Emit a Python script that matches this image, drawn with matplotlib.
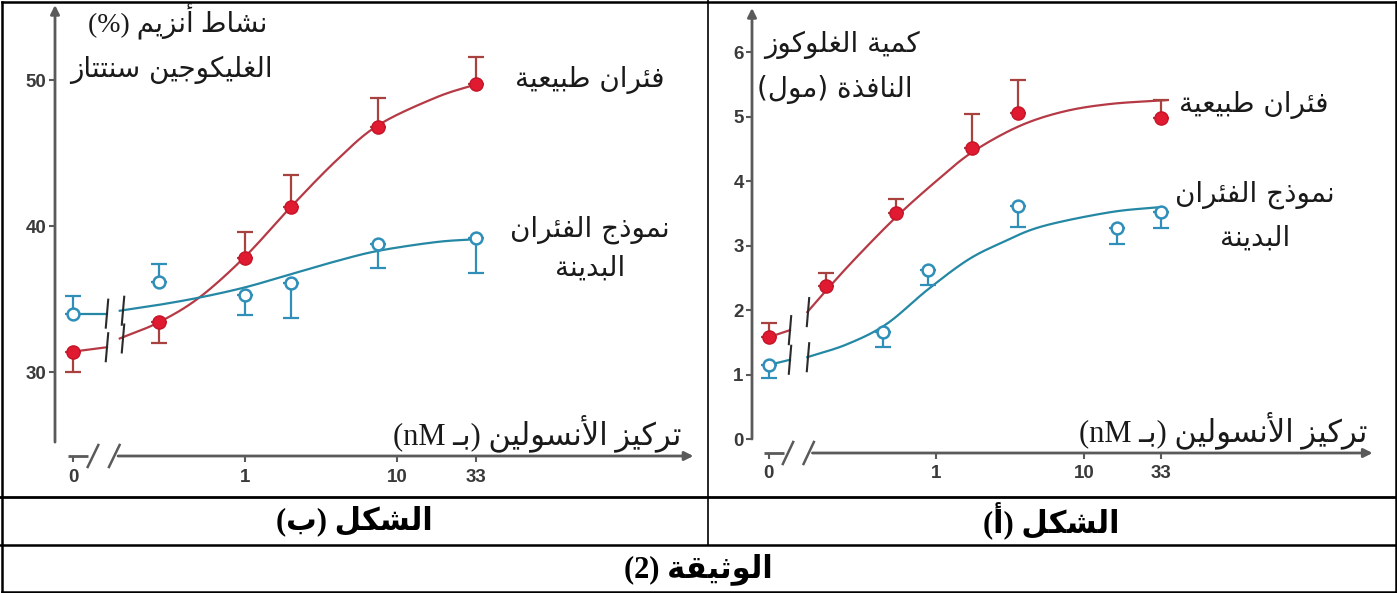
import re
import numpy as np
import matplotlib
matplotlib.use('Agg')
import matplotlib.pyplot as plt
from matplotlib.lines import Line2D

# ---------- الشكل (ب): نشاط أنزيم الغليكوجين سنتتاز (%) ----------
b_red_dose = [0, 0.27, 1, 2, 7.5, 33]
b_red = [31.4, 33.4, 37.8, 41.3, 46.8, 49.7]
b_red_err = [-1.4, -1.4, 1.8, 2.2, 2.0, 1.9]          # sign = side of the bar
b_blue_dose = [0, 0.27, 1, 2, 7.5, 33]
b_blue = [34.0, 36.2, 35.3, 36.1, 38.8, 39.2]
b_blue_err = [1.2, 1.2, -1.4, -2.4, -1.7, -2.4]

b_curve_dose = [0.15, 0.27, 0.5, 1, 2, 4, 7.5, 18, 33]
b_red_curve = [32.3, 33.4, 35.1, 37.9, 41.3, 44.5, 46.9, 48.8, 49.7]
b_blue_curve = [34.2, 34.6, 35.1, 35.8, 36.7, 37.6, 38.3, 38.9, 39.1]
b_red_stub = 31.7
b_blue_stub = 34.0
b_yticks = [30, 40, 50]

# ---------- الشكل (أ): كمية الغلوكوز النافذة (مول) ----------
a_red_dose = [0, 0.18, 0.54, 1.75, 3.6, 33]
a_red = [1.58, 2.38, 3.51, 4.52, 5.06, 4.98]
a_red_err = [0.22, 0.2, 0.21, 0.53, 0.51, 0.28]
a_blue_dose = [0, 0.44, 0.88, 3.6, 16.7, 33]
a_blue = [1.15, 1.66, 2.62, 3.62, 3.27, 3.52]
a_blue_err = [-0.2, -0.23, -0.23, -0.33, -0.25, -0.25]

a_red_curve_dose = [0.135, 0.18, 0.29, 0.54, 1, 1.75, 3.6, 7.2, 15, 36]
a_red_curve = [1.97, 2.30, 2.82, 3.45, 4.0, 4.45, 4.85, 5.08, 5.2, 5.26]
a_blue_curve_dose = [0.135, 0.25, 0.46, 0.88, 1.64, 2.8, 5.2, 15, 33]
a_blue_curve = [1.27, 1.47, 1.78, 2.32, 2.78, 3.05, 3.30, 3.52, 3.60]
a_red_stub = 1.69
a_blue_stub = 1.23
a_yticks = [0, 1, 2, 3, 4, 5, 6]

x_ticks = [0, 1, 10, 33]
x_ticklabels = ['0', '1', '10', '33']

RED_LINE = '#b53a45'
RED_MARK = '#e01a30'
RED_ERR = '#a8423e'
BLUE_LINE = '#2488a4'
BLUE_MARK = '#2f8fb8'
AX_C = '#5a5a5a'
ZERO_POS = -1.13

W, H = 1397, 593


def fx(px):
    return px / W


def fy(py):
    return 1 - py / H


# ---------- arabic shaping (contextual forms + visual order) ----------
DUAL = {'ئ': 0xFE89, 'ب': 0xFE8F, 'ت': 0xFE95, 'ث': 0xFE99, 'ج': 0xFE9D,
        'ح': 0xFEA1, 'خ': 0xFEA5, 'س': 0xFEB1, 'ش': 0xFEB5, 'ص': 0xFEB9,
        'ض': 0xFEBD, 'ط': 0xFEC1, 'ظ': 0xFEC5, 'ع': 0xFEC9, 'غ': 0xFECD,
        'ف': 0xFED1, 'ق': 0xFED5, 'ك': 0xFED9, 'ل': 0xFEDD, 'م': 0xFEE1,
        'ن': 0xFEE5, 'ه': 0xFEE9, 'ي': 0xFEF1}
RIGHT = {'آ': 0xFE81, 'أ': 0xFE83, 'ؤ': 0xFE85, 'إ': 0xFE87, 'ا': 0xFE8D,
         'ة': 0xFE93, 'د': 0xFEA9, 'ذ': 0xFEAB, 'ر': 0xFEAD, 'ز': 0xFEAF,
         'و': 0xFEED, 'ى': 0xFEEF}
LAM_ALEF = {'آ': 0xFEF5, 'أ': 0xFEF7, 'إ': 0xFEF9, 'ا': 0xFEFB}
TATWEEL = 'ـ'


def shape(s):
    out = []
    i = 0
    n = len(s)
    while i < n:
        c = s[i]
        prev = s[i - 1] if i > 0 else ''
        nxt = s[i + 1] if i + 1 < n else ''
        con_prev = prev in DUAL or prev == TATWEEL
        if c == 'ل' and nxt in LAM_ALEF:
            out.append(chr(LAM_ALEF[nxt] + (1 if con_prev else 0)))
            i += 2
            continue
        if c in DUAL:
            con_next = nxt in DUAL or nxt in RIGHT or nxt == TATWEEL
            if con_prev and con_next:
                off = 3
            elif con_prev:
                off = 1
            elif con_next:
                off = 2
            else:
                off = 0
            out.append(chr(DUAL[c] + off))
        elif c in RIGHT:
            out.append(chr(RIGHT[c] + (1 if con_prev else 0)))
        else:
            out.append(c)
        i += 1
    return ''.join(out)


def ar(s):
    tokens = re.findall(r'[A-Za-z0-9]+|.', shape(s))
    mirror = {'(': ')', ')': '('}
    return ''.join(mirror.get(t, t) for t in reversed(tokens))


def pos(doses):
    d = np.asarray(doses, float)
    return np.where(d > 0, np.log10(np.where(d > 0, d, 1)), ZERO_POS)


def smooth(xs, ys, n=16):
    # catmull-rom through the traced curve points
    p = np.column_stack([xs, ys])
    p = np.vstack([2 * p[0] - p[1], p, 2 * p[-1] - p[-2]])
    t = np.linspace(0, 1, n, endpoint=False)[:, None]
    segs = []
    for i in range(1, len(p) - 2):
        p0, p1, p2, p3 = p[i - 1], p[i], p[i + 1], p[i + 2]
        seg = 0.5 * (2 * p1 + (-p0 + p2) * t + (2 * p0 - 5 * p1 + 4 * p2 - p3) * t ** 2
                     + (-p0 + 3 * p1 - 3 * p2 + p3) * t ** 3)
        segs.append(seg)
    segs.append(p[-2][None, :])
    out = np.vstack(segs)
    return out[:, 0], out[:, 1]


def draw_panel(ax, xlim, ylim, ppu, ybottom, yticks, series, brk):
    ax.set_xlim(xlim)
    ax.set_ylim(ylim)
    for s in ax.spines.values():
        s.set_visible(False)
    ax.patch.set_alpha(0)

    ax.set_xticks(pos(x_ticks))
    ax.set_xticklabels(x_ticklabels)
    ax.set_yticks(yticks)
    ax.tick_params(direction='out', length=4, width=1.5, color=AX_C,
                   labelsize=13.5, labelcolor='#3a3a3a')
    ax.tick_params(axis='x', pad=5)
    ax.tick_params(axis='y', pad=2)
    for lbl in ax.get_xticklabels() + ax.get_yticklabels():
        lbl.set_fontfamily('Liberation Sans')
        lbl.set_fontweight('bold')

    # y axis with arrow
    ax.annotate('', xy=(xlim[0], ylim[1]), xytext=(xlim[0], ybottom),
                arrowprops=dict(arrowstyle='-|>', color=AX_C, lw=2, shrinkA=0, shrinkB=0,
                                mutation_scale=13), annotation_clip=False)
    # x axis, broken near zero
    yb = ylim[0]
    ax.plot([-1.165, -1.03], [yb, yb], color=AX_C, lw=2, clip_on=False,
            solid_capstyle='butt')
    ax.annotate('', xy=(2.95, yb), xytext=(-0.835, yb),
                arrowprops=dict(arrowstyle='-|>', color=AX_C, lw=2, shrinkA=0, shrinkB=0,
                                mutation_scale=13), annotation_clip=False)
    h = 11 / ppu
    for sx in (-1.0, -0.86):
        ax.plot([sx - 0.035, sx + 0.035], [yb - h, yb + h], color=AX_C, lw=1.8,
                clip_on=False)

    bh = 14 / ppu
    for dose, vals, err, cdose, cvals, stub, line_c, filled in series:
        xs = pos(dose)
        ax.plot([xs[0], brk[0]], [vals[0], stub], color=line_c, lw=1.6, zorder=2)
        cx, cy = smooth(pos(cdose), cvals)
        ax.plot(cx, cy, color=line_c, lw=1.6, zorder=2)
        for bx, yc in ((brk[0], stub), (brk[1], cvals[0])):
            ax.plot([bx - 0.008, bx + 0.008], [yc - bh, yc + bh], color='#2a2a2a',
                    lw=1.5, zorder=3)
        e = np.asarray(err)
        lo = np.where(e < 0, -e, 0)
        hi = np.where(e > 0, e, 0)
        if filled:
            ax.errorbar(xs, vals, yerr=[lo, hi], fmt='none', ecolor=RED_ERR,
                        elinewidth=1.6, capsize=6, capthick=1.6, zorder=3)
            ax.plot(xs, vals, 'o', ms=9.5, mfc=RED_MARK, mec='#c41428', mew=1,
                    zorder=5)
        else:
            ax.errorbar(xs, vals, yerr=[lo, hi], fmt='none', ecolor=BLUE_MARK,
                        elinewidth=1.6, capsize=6, capthick=1.6, zorder=3)
            ax.plot(xs, vals, 'o', ms=8.5, mfc='white', mec=BLUE_MARK, mew=1.8,
                    zorder=5)


plt.rcParams['font.family'] = ['DejaVu Sans']
fig = plt.figure(figsize=(W / 100, H / 100), dpi=100)

# left panel (ب): 1 nM at 245 px, 152 px per decade, 14.6 px per %
axb = fig.add_axes([fx(55), fy(456), (700 - 55) / W, (456 - 5) / H])
draw_panel(axb, ((55 - 245) / 152, (700 - 245) / 152), (24.25, 55.14), 14.6, 25.2,
           b_yticks,
           [(b_red_dose, b_red, b_red_err, b_curve_dose, b_red_curve, b_red_stub,
             RED_LINE, True),
            (b_blue_dose, b_blue, b_blue_err, b_curve_dose, b_blue_curve, b_blue_stub,
             BLUE_LINE, False)],
           ((107 - 245) / 152, (123 - 245) / 152))

# right panel (أ): 1 nM at 936 px, 148 px per decade, 64.4 px per mol
axa = fig.add_axes([fx(752), fy(453), (1390 - 752) / W, (453 - 8) / H])
draw_panel(axa, ((752 - 936) / 148, (1390 - 936) / 148), (-0.217, 6.69), 64.4, 0,
           a_yticks,
           [(a_red_dose, a_red, a_red_err, a_red_curve_dose, a_red_curve, a_red_stub,
             RED_LINE, True),
            (a_blue_dose, a_blue, a_blue_err, a_blue_curve_dose, a_blue_curve, a_blue_stub,
             BLUE_LINE, False)],
           ((790 - 936) / 148, (808 - 936) / 148))

serif_ar = ['Liberation Serif', 'DejaVu Sans']
lab = dict(ha='center', va='center', fontsize=20, color='#1a1a1a')
xlab = dict(ha='center', va='center', fontsize=22, color='#1a1a1a', family=serif_ar)

# panel (ب) texts
fig.text(fx(178), fy(22), ar('نشاط أنزيم (%)'), family=serif_ar, **lab)
fig.text(fx(171), fy(70), ar('الغليكوجين سنتتاز'), **lab)
fig.text(fx(590), fy(80), ar('فئران طبيعية'), **lab)
fig.text(fx(590), fy(230), ar('نموذج الفئران'), **lab)
fig.text(fx(590), fy(268), ar('البدينة'), **lab)
fig.text(fx(537), fy(433), ar('تركيز الأنسولين (بـ nM)'), **xlab)

# panel (أ) texts
fig.text(fx(842), fy(45), ar('كمية الغلوكوز'), **lab)
fig.text(fx(835), fy(90), ar('النافذة (مول)'), **lab)
fig.text(fx(1254), fy(105), ar('فئران طبيعية'), **lab)
fig.text(fx(1255), fy(195), ar('نموذج الفئران'), **lab)
fig.text(fx(1255), fy(238), ar('البدينة'), **lab)
fig.text(fx(1223), fy(430), ar('تركيز الأنسولين (بـ nM)'), **xlab)

# table grid
for (x0, y0, x1, y1, lw) in [(1.5, 1.5, 1395.5, 1.5, 1.8), (1.5, 591.5, 1395.5, 591.5, 1.8),
                             (1.5, 1.5, 1.5, 591.5, 1.8), (1395.5, 1.5, 1395.5, 591.5, 1.8),
                             (0, 497, W, 497, 2.0), (0, 545, W, 545, 1.8),
                             (708, 0, 708, 545, 1.2)]:
    fig.add_artist(Line2D([fx(x0), fx(x1)], [fy(y0), fy(y1)], color='black', lw=lw,
                          solid_capstyle='projecting'))

cap = dict(ha='center', va='center', fontsize=22, fontweight='bold', color='black',
           family=serif_ar)
fig.text(fx(354), fy(521), ar('الشكل (ب)'), **cap)
fig.text(fx(1051), fy(521), ar('الشكل (أ)'), **cap)
fig.text(fx(698), fy(569), ar('الوثيقة (2)'), **cap)

fig.savefig('out.png', dpi=100)
